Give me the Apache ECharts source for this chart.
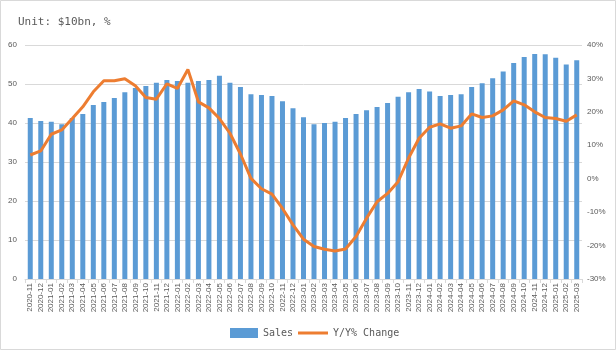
<!DOCTYPE html>
<html>
<head>
<meta charset="utf-8">
<script src="https://cdn.jsdelivr.net/npm/echarts@6/dist/echarts.min.js"></script>
<style>
html,body{margin:0;padding:0;background:#fff;}
#c{width:616px;height:350px;}
</style>
</head>
<body>
<div id="c"></div>
<script>
const categories = ['2020-11','2020-12','2021-01','2021-02','2021-03','2021-04','2021-05','2021-06','2021-07','2021-08','2021-09','2021-10','2021-11','2021-12','2022-01','2022-02','2022-03','2022-04','2022-05','2022-06','2022-07','2022-08','2022-09','2022-10','2022-11','2022-12','2023-01','2023-02','2023-03','2023-04','2023-05','2023-06','2023-07','2023-08','2023-09','2023-10','2023-11','2023-12','2024-01','2024-02','2024-03','2024-04','2024-05','2024-06','2024-07','2024-08','2024-09','2024-10','2024-11','2024-12','2025-01','2025-02','2025-03'];
const sales = [41.3,40.5,40.3,39.7,41.3,42.3,44.6,45.4,46.4,47.9,49.0,49.5,50.3,51.0,50.8,50.3,50.8,51.0,52.1,50.3,49.2,47.4,47.2,46.9,45.6,43.8,41.5,39.7,40.0,40.3,41.3,42.3,43.3,44.1,45.1,46.7,47.9,48.7,48.1,46.9,47.2,47.4,49.2,50.2,51.5,53.2,55.4,56.9,57.7,57.6,56.7,55.0,56.1];
const yoy = [7.1,8.3,13.3,14.6,18.0,21.5,26.0,29.3,29.3,29.9,27.8,24.3,23.8,28.4,27.0,32.7,23.0,21.2,18.0,13.6,7.4,0.1,-3.0,-4.6,-8.9,-13.8,-18.1,-20.3,-21.1,-21.6,-21.0,-17.3,-11.8,-6.9,-4.4,-0.9,6.2,12.1,15.4,16.4,15.1,15.8,19.4,18.3,18.8,20.6,23.3,22.1,20.0,18.3,18.0,17.2,19.1];
const leftTicks = {min:0,max:60,interval:10};
const rightTicks = {min:-30,max:40,interval:10};

const chart = echarts.init(document.getElementById('c'), null, {renderer:'canvas'});
const txt = '#595959';
const legendText = {fontFamily:'DejaVu Sans Mono',fontSize:10,color:txt};
chart.setOption({
  animation:false,
  backgroundColor:'#fff',
  graphic:[{type:'rect',shape:{x:0.5,y:0.5,width:615,height:349},style:{fill:'none',stroke:'#d9d9d9',lineWidth:1},silent:true}],
  title:{text:'Unit: $10bn, %',left:13,top:12,textStyle:{fontFamily:'DejaVu Sans Mono',fontSize:11,fontWeight:'normal',color:txt}},
  legend:[
    {left:225,top:323,itemWidth:28,itemHeight:10,itemGap:6,textStyle:legendText,
     data:[{name:'Sales',icon:'rect'}]},
    {left:293,top:323,itemWidth:30,itemHeight:3,itemGap:6,textStyle:legendText,
     data:[{name:'Y/Y% Change',icon:'rect'}]}
  ],
  grid:{left:25,right:34,top:45,bottom:71,containLabel:false},
  xAxis:{type:'category',data:categories,
    axisLine:{lineStyle:{color:'#d9d9d9'}},
    axisTick:{show:true,alignWithLabel:false,lineStyle:{color:'#d9d9d9'},length:4},
    axisLabel:{rotate:90,interval:0,fontSize:8,color:txt,margin:4,fontFamily:'Liberation Sans'}},
  yAxis:[
    {type:'value',min:leftTicks.min,max:leftTicks.max,interval:leftTicks.interval,
     axisLine:{show:false},axisTick:{show:false},
     axisLabel:{fontSize:8,color:txt,margin:8,fontFamily:'Liberation Sans'},
     splitLine:{lineStyle:{color:'#d9d9d9'}}},
    {type:'value',min:rightTicks.min,max:rightTicks.max,interval:rightTicks.interval,
     axisLine:{show:false},axisTick:{show:false},
     axisLabel:{fontSize:8,color:txt,margin:5,formatter:'{value}%',fontFamily:'Liberation Sans'},
     splitLine:{show:false}}
  ],
  series:[
    {name:'Sales',type:'bar',data:sales,yAxisIndex:0,barWidth:5,itemStyle:{color:'#5B9BD5'}},
    {name:'Y/Y% Change',type:'line',data:yoy,yAxisIndex:1,symbol:'none',smooth:false,
     lineStyle:{color:'#ED7D31',width:3},itemStyle:{color:'#ED7D31'}}
  ]
});
</script>
</body>
</html>
